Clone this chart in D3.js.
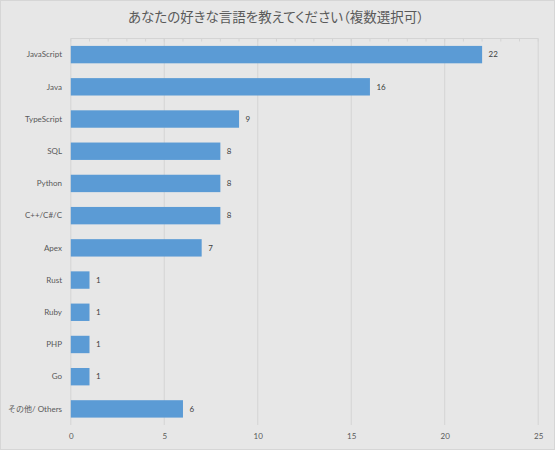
<!DOCTYPE html>
<html><head><meta charset="utf-8">
<script src="https://cdn.jsdelivr.net/npm/d3@7"></script>
<style>body{margin:0;background:#fff}svg{display:block}.ttl{font-feature-settings:"palt" 1}</style>
</head><body>
<svg id="c" width="555" height="450"></svg>
<script>
const categories = ["JavaScript","Java","TypeScript","SQL","Python","C++/C#/C","Apex","Rust","Ruby","PHP","Go","その他/ Others"];
const values = [22,16,9,8,8,8,7,1,1,1,1,6];
const xTicks = [0,5,10,15,20,25];
const title = "あなたの好きな言語を教えてください（複数選択可）";

const svg = d3.select("#c");
const W = 555, H = 450;
svg.append("rect").attr("x",0.5).attr("y",0.5).attr("width",W-1).attr("height",H-1)
  .attr("fill","#e7e7e7").attr("stroke","#d6d6d6");

const x = d3.scaleLinear().domain([0,25]).range([70.8,538.2]);
const y = d3.scaleBand().domain(categories).range([38.5,425]).paddingInner(0.46).paddingOuter(0.23);

// gridlines
svg.append("g").selectAll("line").data(xTicks).join("line")
  .attr("x1",d=>x(d)).attr("x2",d=>x(d)).attr("y1",38.5).attr("y2",425)
  .attr("stroke","#d4d4d4").attr("stroke-width",1);
// top axis line with minor ticks
svg.append("line").attr("x1",x(0)).attr("x2",x(25)).attr("y1",38.5).attr("y2",38.5).attr("stroke","#d4d4d4");
svg.append("g").selectAll("line").data(d3.range(0,26)).join("line")
  .attr("x1",d=>x(d)).attr("x2",d=>x(d)).attr("y1",38.5).attr("y2",41.5)
  .attr("stroke","#d4d4d4");

// bars
svg.append("g").selectAll("rect").data(values).join("rect")
  .attr("x",x(0)).attr("y",(d,i)=>y(categories[i]))
  .attr("width",d=>x(d)-x(0)).attr("height",y.bandwidth())
  .attr("fill","#5b9bd5");

// value labels
svg.append("g").selectAll("text").data(values).join("text")
  .attr("x",d=>x(d)+6.5).attr("y",(d,i)=>y(categories[i])+y.bandwidth()/2)
  .attr("dy","0.35em").attr("font-family","Lato, 'Noto Sans CJK JP', sans-serif")
  .attr("font-size",8).attr("fill","#404040").text(d=>d);

// category labels
svg.append("g").selectAll("text").data(categories).join("text")
  .attr("x",62).attr("y",d=>y(d)+y.bandwidth()/2).attr("dy","0.35em")
  .attr("text-anchor","end").attr("font-family","Lato, 'Noto Sans CJK JP', sans-serif")
  .attr("font-size",8).attr("fill","#595959").text(d=>d);

// x tick labels
const ax = d3.axisBottom(x).tickValues(xTicks).tickSize(0).tickPadding(0);
const g = svg.append("g").attr("transform","translate(0,433)").call(ax);
g.select(".domain").remove();
g.selectAll("text").attr("font-family","Lato, sans-serif").attr("font-size",8).attr("fill","#595959");

// title
svg.append("text").attr("class","ttl").attr("x",276).attr("y",21.5).attr("text-anchor","middle")
  .attr("font-family","'Noto Sans CJK JP', sans-serif").attr("font-size",13.5)
  .attr("fill","#595959").text(title);
</script>
</body></html>
